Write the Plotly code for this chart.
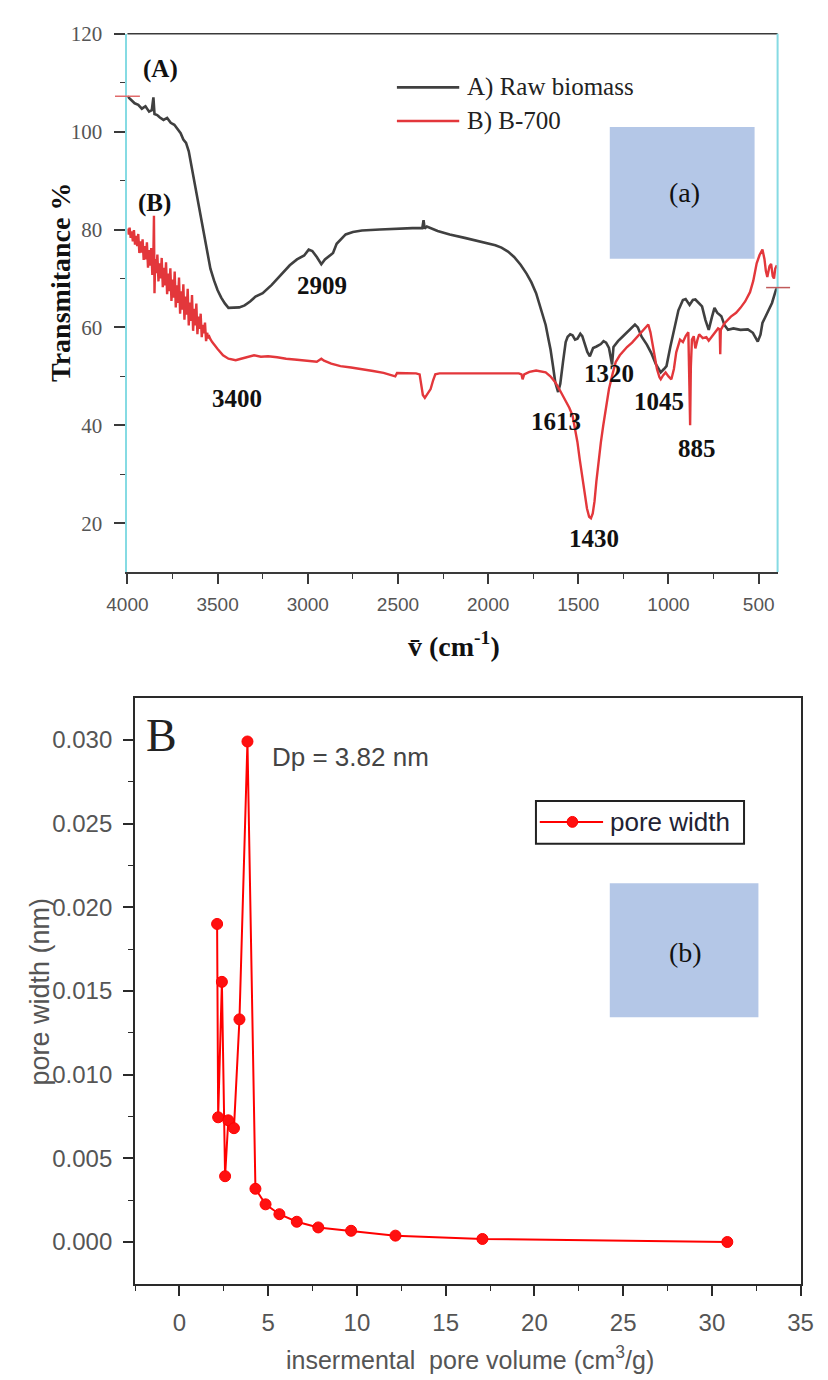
import plotly.graph_objects as go

W, H = 828, 1380

# ---------------- data: FTIR spectra (panel a) ----------------
raw_wn = [4000, 3980, 3960, 3940, 3920, 3900, 3880, 3865, 3856, 3850, 3835, 3820, 3800, 3780,
          3760, 3740, 3720, 3705, 3690, 3675, 3660, 3650, 3635, 3620, 3600, 3580, 3560, 3540,
          3520, 3500, 3480, 3460, 3440, 3420, 3380, 3350, 3320, 3290, 3250, 3200, 3150, 3100,
          3060, 3020, 2995, 2975, 2950, 2925, 2905, 2880, 2860, 2840, 2820, 2790, 2750, 2700,
          2600, 2500, 2420, 2365, 2358, 2352, 2340, 2280, 2213, 2130, 2032, 1960, 1926, 1890,
          1856, 1820, 1787, 1760, 1734, 1710, 1700, 1681, 1665, 1654, 1640, 1628, 1612, 1600,
          1585, 1570, 1559, 1545, 1532, 1518, 1505, 1489, 1478, 1468, 1450, 1436, 1418, 1399,
          1375, 1360, 1346, 1330, 1319, 1313, 1305, 1280, 1255, 1220, 1186, 1170, 1149, 1120,
          1096, 1070, 1043, 1025, 1011, 990, 963, 945, 920, 905, 883, 865, 851, 830, 814, 795,
          777, 760, 745, 730, 707, 690, 670, 640, 601, 560, 532, 505, 490, 479, 450, 426, 404, 398]
raw_t = [107.2, 106.5, 105.8, 105.5, 104.7, 105.2, 104.1, 104.4, 107.0, 103.6, 103.4, 102.9, 102.4, 102.8,
         101.8, 101.4, 100.4, 99.7, 98.4, 97.7, 96.0, 94.0, 90.6, 88.2, 83.8, 79.8, 75.4, 72.0,
         69.6, 67.6, 66.1, 64.9, 64.0, 64.0, 64.1, 64.5, 65.3, 66.3, 67.0, 68.7, 70.7, 72.7,
         73.9, 74.7, 75.9, 75.6, 74.4, 72.9, 73.9, 74.7, 75.2, 77.1, 77.9, 79.0, 79.5, 79.8,
         80.0, 80.2, 80.3, 80.3, 81.9, 80.2, 80.6, 79.7, 79.0, 78.3, 77.4, 76.8, 76.3, 75.5,
         74.4, 72.8, 71.0, 69.2, 67.0, 64.0, 63.0, 60.5, 57.5, 55.5, 52.0, 48.8, 46.8, 48.5,
         52.9, 57.0, 58.1, 58.6, 58.4, 57.5, 57.7, 58.7, 58.2, 57.1, 55.0, 54.1, 55.8, 56.1,
         56.6, 57.2, 56.9, 55.8, 53.5, 52.4, 56.0, 57.2, 58.1, 59.3, 60.6, 60.0, 58.1, 56.5,
         54.8, 52.5, 50.8, 51.5, 52.1, 56.0, 60.9, 63.5, 65.6, 65.8, 64.6, 65.6, 65.7, 65.0, 64.3, 61.5,
         59.5, 62.0, 64.0, 63.0, 62.3, 60.5, 59.5, 59.8, 59.5, 59.6, 58.9, 57.1, 58.5, 60.9, 63.0, 65.0, 67.7, 68.0]

b700_wn = [4000, 3994, 3988, 3982, 3976, 3970, 3964, 3958, 3952, 3946, 3940, 3934, 3928, 3922,
           3916, 3910, 3904, 3898, 3892, 3886, 3880, 3874, 3868, 3862, 3856, 3853, 3850, 3846,
           3840, 3834, 3828, 3822, 3816, 3810, 3804, 3798, 3792, 3786, 3780, 3774, 3768, 3762,
           3756, 3750, 3744, 3738, 3732, 3726, 3720, 3714, 3708, 3702, 3696, 3690, 3684, 3678,
           3672, 3666, 3660, 3654, 3648, 3642, 3636, 3630, 3624, 3618, 3612, 3606, 3600, 3594,
           3588, 3582, 3576, 3570, 3564, 3558, 3552, 3546, 3540, 3530, 3500, 3470, 3440, 3420,
           3400, 3370, 3330, 3298,
           3260, 3220, 3170, 3120, 3060, 2995, 2950, 2925, 2910, 2870, 2819, 2760, 2700, 2638,
           2580, 2532, 2515, 2505, 2470, 2400, 2380, 2372, 2362, 2351, 2335, 2319, 2305, 2293,
           2270, 2000, 1830, 1815, 1809, 1800, 1771, 1734, 1700, 1681, 1655, 1628, 1600, 1575,
           1550, 1532, 1520, 1505, 1492, 1479, 1465, 1452, 1440, 1430, 1420, 1410, 1400, 1388,
           1375, 1362, 1346, 1330, 1310, 1293, 1270, 1255, 1230, 1202, 1175, 1149, 1125, 1112,
           1100, 1090, 1075, 1064, 1050, 1043, 1030, 1016, 1000, 984, 970, 957, 936, 920, 904,
           890, 884, 880, 876, 870, 860, 851, 840, 830, 810, 790, 777, 760, 745, 725, 716, 713,
           710, 690, 654, 625, 601, 575, 548, 530, 511, 495, 479, 468, 460, 452, 440, 431, 422,
           415, 408, 399]
b700_t = [80.2, 79.0, 80.4, 78.3, 79.6, 77.6, 79.9, 76.9, 78.7, 76.6, 79.1, 75.2, 77.6, 75.3,
          78.0, 73.8, 76.6, 73.9, 77.4, 72.2, 75.8, 72.6, 76.2, 70.7, 75.0, 82.8, 67.0, 74.0,
          71.1, 74.9, 69.4, 73.1, 70.0, 74.2, 68.2, 72.2, 68.6, 73.3, 66.8, 71.0, 67.4, 72.1,
          65.4, 69.8, 66.1, 71.4, 64.1, 68.6, 65.0, 70.2, 62.8, 67.4, 63.6, 68.8, 61.6, 66.3,
          62.6, 67.9, 60.4, 65.1, 61.3, 66.6, 59.3, 63.8, 60.4, 64.9, 58.6, 62.2, 59.7, 62.8,
          58.0, 60.5, 58.8, 61.0, 57.2, 58.9, 57.8, 58.1, 57.6, 57.0, 55.6, 54.3, 53.6, 53.4,
          53.3, 53.6, 54.0, 54.3,
          54.0, 54.1, 53.9, 53.6, 53.4, 53.1, 53.0, 53.6, 53.2, 52.6, 52.1, 51.8, 51.5, 51.1,
          50.7, 50.1, 50.0, 50.7, 50.7, 50.6, 50.4, 48.0, 46.2, 45.6, 46.5, 47.4, 49.2, 50.4,
          50.6, 50.6, 50.6, 50.4, 49.4, 50.4, 50.9, 51.2, 51.0, 50.8, 50.0, 48.8, 47.0, 45.4,
          43.6, 42.0, 39.8, 36.6, 33.0, 29.8, 26.3, 23.0, 21.3, 21.0, 22.0, 24.5, 28.5, 32.6,
          36.5, 39.9, 44.0, 47.4, 50.5, 52.9, 54.3, 55.0, 56.0, 56.9, 58.0, 58.9, 60.0, 60.6,
          59.0, 56.9, 53.8, 51.5, 49.8, 49.4, 50.2, 50.8, 50.0, 49.4, 51.5, 54.9, 57.5, 57.0, 58.3,
          59.0, 48.0, 40.0, 52.0, 57.5, 58.2, 55.7, 57.4, 58.6, 57.8, 58.0, 57.3, 58.2, 59.0, 59.8, 59.6, 54.5,
          59.5, 60.8, 62.2, 63.0, 64.0, 65.3, 67.2, 69.5, 73.1, 74.8, 75.9, 74.0, 71.5, 70.3, 72.5, 73.0, 70.5,
          70.0, 72.0, 72.7]

peak_labels = ["2909", "3400", "1613", "1320", "1045", "885", "1430"]
x_ticks_a = [4000, 3500, 3000, 2500, 2000, 1500, 1000, 500]
y_ticks_a = [20, 40, 60, 80, 100, 120]

# ---------------- data: pore distribution (panel b) ----------------
pore_volume = [2.12, 2.18, 2.39, 2.57, 2.75, 3.07, 3.38, 3.83, 4.28, 4.85, 5.63, 6.61,
               7.82, 9.67, 12.17, 17.07, 30.87]
pore_width = [0.0190, 0.00745, 0.01554, 0.00393, 0.00727, 0.0068, 0.0133, 0.0299, 0.00318,
              0.00225, 0.00166, 0.00121, 0.00087, 0.00067, 0.00038, 0.00018, 0.00000]
x_ticks_b = [0, 5, 10, 15, 20, 25, 30, 35]
y_ticks_b = [0.000, 0.005, 0.010, 0.015, 0.020, 0.025, 0.030]


def X(px):
    return px / W


def Y(py):
    return 1 - py / H


SERIF = "Liberation Serif, Times New Roman, serif"
SANS = "Liberation Sans, Arial, sans-serif"
GRID_DARK = "#3a3a3a"
CYAN = "#86dbe3"
BLACK_CURVE = "#404040"
RED_CURVE = "#e3373b"
BLUE_BOX = "#b4c7e7"

fig = go.Figure()

fig.add_trace(go.Scatter(x=raw_wn, y=raw_t, mode="lines", name="A) Raw biomass",
                         line=dict(color=BLACK_CURVE, width=2.6), xaxis="x", yaxis="y",
                         showlegend=False))
fig.add_trace(go.Scatter(x=b700_wn, y=b700_t, mode="lines", name="B) B-700",
                         line=dict(color=RED_CURVE, width=2.4), xaxis="x", yaxis="y",
                         showlegend=False))
fig.add_trace(go.Scatter(x=pore_volume, y=pore_width, mode="lines+markers", name="pore width",
                         line=dict(color="#ff0000", width=2),
                         marker=dict(color="#ff1010", size=11, line=dict(color="#ff0000", width=1)),
                         xaxis="x2", yaxis="y2", showlegend=False))

# plot area geometry (pixels)
a_l, a_r, a_t, a_b = 111, 789, 22, 565
b_l, b_r, b_t, b_b = 119, 813, 692, 1283

fig.update_layout(
    width=W, height=H, margin=dict(l=0, r=0, t=0, b=0),
    paper_bgcolor="white", plot_bgcolor="white", showlegend=False,
    xaxis=dict(domain=[X(a_l), X(a_r)], range=[4000, 395], anchor="y",
               tickmode="array", tickvals=x_ticks_a, ticktext=[str(v) for v in x_ticks_a],
               showgrid=False, zeroline=False, showline=True, linecolor=GRID_DARK, linewidth=1.6,
               ticks="outside", ticklen=10, tickwidth=1.6, tickcolor=GRID_DARK,
               minor=dict(tickvals=[3750, 3250, 2750, 2250, 1750, 1250, 750], ticklen=5,
                          tickwidth=1.4, tickcolor=GRID_DARK, ticks="outside"),
               tickfont=dict(family=SANS, size=19, color="#555555"), ticklabelstandoff=4),
    yaxis=dict(domain=[Y(a_b), Y(a_t)], range=[10, 120], anchor="x",
               tickmode="array", tickvals=y_ticks_a, ticktext=[str(v) for v in y_ticks_a],
               showgrid=False, zeroline=False, showline=True, linecolor=CYAN, linewidth=2,
               ticks="outside", ticklen=11, tickwidth=1.6, tickcolor=GRID_DARK,
               minor=dict(tickvals=[30, 50, 70, 90, 110], ticklen=5, tickwidth=1.4,
                          tickcolor=GRID_DARK, ticks="outside"),
               tickfont=dict(family=SERIF, size=21, color="#555555"), ticklabelstandoff=8),
    xaxis2=dict(domain=[X(b_l), X(b_r)], range=[-2.5, 35], anchor="y2",
                tickmode="array", tickvals=x_ticks_b, ticktext=[str(v) for v in x_ticks_b],
                showgrid=False, zeroline=False, showline=True, mirror=True,
                linecolor="#2a2a2a", linewidth=2,
                ticks="outside", ticklen=10, tickwidth=1.6, tickcolor="#2a2a2a",
                minor=dict(tickvals=[-2.5, 2.5, 7.5, 12.5, 17.5, 22.5, 27.5, 32.5], ticklen=5,
                           tickwidth=1.4, tickcolor="#2a2a2a", ticks="outside"),
                tickfont=dict(family=SANS, size=24, color="#555555"), ticklabelstandoff=6),
    yaxis2=dict(domain=[Y(b_b), Y(b_t)], range=[-0.0025, 0.0325], anchor="x2",
                tickmode="array", tickvals=y_ticks_b, ticktext=[f"{v:.3f}" for v in y_ticks_b],
                showgrid=False, zeroline=False, showline=True, mirror=True,
                linecolor="#2a2a2a", linewidth=2,
                ticks="outside", ticklen=10, tickwidth=1.6, tickcolor="#2a2a2a",
                minor=dict(tickvals=[0.0025, 0.0075, 0.0125, 0.0175, 0.0225, 0.0275], ticklen=5,
                           tickwidth=1.4, tickcolor="#2a2a2a", ticks="outside"),
                tickfont=dict(family=SANS, size=24, color="#555555"), ticklabelstandoff=6),
)

shapes = []
# panel a frame: top dark line, right cyan line
shapes.append(dict(type="line", xref="paper", yref="paper", x0=X(a_l), x1=X(a_r), y0=Y(a_t), y1=Y(a_t),
                   line=dict(color=GRID_DARK, width=1.6)))
shapes.append(dict(type="line", xref="paper", yref="paper", x0=X(a_r), x1=X(a_r), y0=Y(a_t), y1=Y(a_b),
                   line=dict(color=CYAN, width=2)))
# end markers of the curves
shapes.append(dict(type="line", xref="paper", yref="paper", x0=X(98), x1=X(124), y0=Y(85), y1=Y(85),
                   line=dict(color="#e06a6a", width=1.5)))
shapes.append(dict(type="line", xref="paper", yref="paper", x0=X(777), x1=X(802), y0=Y(278), y1=Y(278),
                   line=dict(color="#c05a5a", width=1.5)))
# blue boxes
shapes.append(dict(type="rect", xref="paper", yref="paper", x0=X(614), x1=X(765), y0=Y(249), y1=Y(116),
                   fillcolor=BLUE_BOX, line=dict(width=0), layer="above"))
shapes.append(dict(type="rect", xref="paper", yref="paper", x0=X(614), x1=X(769), y0=Y(1014), y1=Y(879),
                   fillcolor=BLUE_BOX, line=dict(width=0), layer="above"))
# legend (panel a)
shapes.append(dict(type="line", xref="paper", yref="paper", x0=X(392), x1=X(457), y0=Y(76), y1=Y(76),
                   line=dict(color=BLACK_CURVE, width=2.6)))
shapes.append(dict(type="line", xref="paper", yref="paper", x0=X(392), x1=X(457), y0=Y(110), y1=Y(110),
                   line=dict(color=RED_CURVE, width=2.6)))
# legend (panel b)
shapes.append(dict(type="rect", xref="paper", yref="paper", x0=X(537), x1=X(754), y0=Y(839), y1=Y(796),
                   fillcolor="white", line=dict(color="#222222", width=2)))
shapes.append(dict(type="line", xref="paper", yref="paper", x0=X(541), x1=X(607), y0=Y(817), y1=Y(817),
                   line=dict(color="#ff0000", width=2)))
shapes.append(dict(type="circle", xref="paper", yref="paper", x0=X(569.5), x1=X(580.5), y0=Y(822.5), y1=Y(811.5),
                   fillcolor="#ff1010", line=dict(color="#ff0000", width=1)))
fig.update_layout(shapes=shapes)

ann = []


def text(px, py, s, family, size, color="#111111", xanchor="center", textangle=0):
    ann.append(dict(xref="paper", yref="paper", x=X(px), y=Y(py), text=s, showarrow=False,
                    xanchor=xanchor, yanchor="middle", textangle=textangle,
                    font=dict(family=family, size=size, color=color)))


# panel a texts
text(145, 57, "<b>(A)</b>", SERIF, 25)
text(139, 193, "<b>(B)</b>", SERIF, 25)
label_pos = [(314, 276), (225, 390), (558, 413), (613, 365), (665, 393), (705, 440), (598, 531)]
for lab, (px, py) in zip(peak_labels, label_pos):
    text(px, py, f"<b>{lab}</b>", SERIF, 25)
text(463, 76, "A) Raw biomass", SERIF, 25, color="#222222", xanchor="left")
text(463, 110, "B) B-700", SERIF, 25, color="#222222", xanchor="left")
text(692, 182, "(a)", SERIF, 28, color="#111111")
text(41, 273, "<b>Transmitance %</b>", SERIF, 28, textangle=-90)
text(452, 638, "<b>v\u0304 (cm<sup>-1</sup>)</b>", SERIF, 28)

# panel b texts
text(146, 730, "B", SERIF, 46, color="#222222")
text(260, 752, "Dp = 3.82 nm", SANS, 26, color="#444444", xanchor="left")
text(612, 817, "pore width", SANS, 26, color="#222233", xanchor="left")
text(693, 949, "(b)", SERIF, 28, color="#111111")
text(20, 988, "pore width (nm)", SANS, 27, color="#555555", textangle=-90)
text(468, 1358, "insermental  pore volume (cm<sup>3</sup>/g)", SANS, 25, color="#555555")

fig.update_layout(annotations=ann)

fig.write_html("out.html", config={"displayModeBar": False},
               post_script="document.body.style.margin='0';document.body.style.overflow='hidden';")
